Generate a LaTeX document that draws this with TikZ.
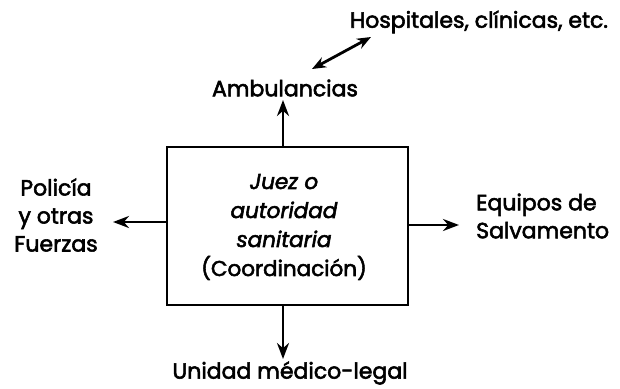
\documentclass[tikz,border=0pt]{standalone}
\usepackage{fontspec}
\setmainfont{Poppins}[FakeBold=2.5]
\usetikzlibrary{arrows.meta}
\begin{document}
\begin{tikzpicture}[x=1pt,y=-1pt,
  lbl/.style={font=\fontsize{22}{28}\selectfont, inner sep=0pt},
  arr/.style={line width=2.8pt, -{Stealth[length=16pt,width=12pt]}},
  darr/.style={line width=2.8pt, {Stealth[length=14pt,width=11pt]}-{Stealth[length=14pt,width=11pt]}},
  boxst/.style={draw, line width=2.4pt, minimum width=241pt, minimum height=158pt, inner sep=0pt}]
\useasboundingbox (0,0) rectangle (620,388);
\node[boxst] (box) at (287.5,226) {};
\node[lbl, align=center, font=\fontsize{21.5}{29}\selectfont] (boxtxt) at (284,227) {\textit{Juez o}\\\textit{autoridad}\\\textit{sanitaria}\\(Coordinación)};
\node[lbl] (amb) at (285,88) {Ambulancias};
\node[lbl] (hosp) at (479,22) {Hospitales, clínicas, etc.};
\node[lbl, align=center] (pol) at (56,215) {Policía\\y otras\\Fuerzas};
\node[lbl, align=left, anchor=west] (equ) at (476,216) {Equipos de\\Salvamento};
\node[lbl] (uni) at (290,373) {Unidad médico-legal};
\coordinate (ambtip) at (283,100);
\coordinate (poltip) at (113,222);
\coordinate (equtip) at (459,225);
\coordinate (unitip) at (283,359);
\coordinate (h1) at (312,69);
\coordinate (h2) at (371,37);
\draw[arr] (box.north -| ambtip) -- (ambtip);
\draw[arr] (box.west |- poltip) -- (poltip);
\draw[arr] (box.east |- equtip) -- (equtip);
\draw[arr] (box.south -| unitip) -- (unitip);
\draw[darr] (h1) -- (h2);
\end{tikzpicture}
\end{document}
